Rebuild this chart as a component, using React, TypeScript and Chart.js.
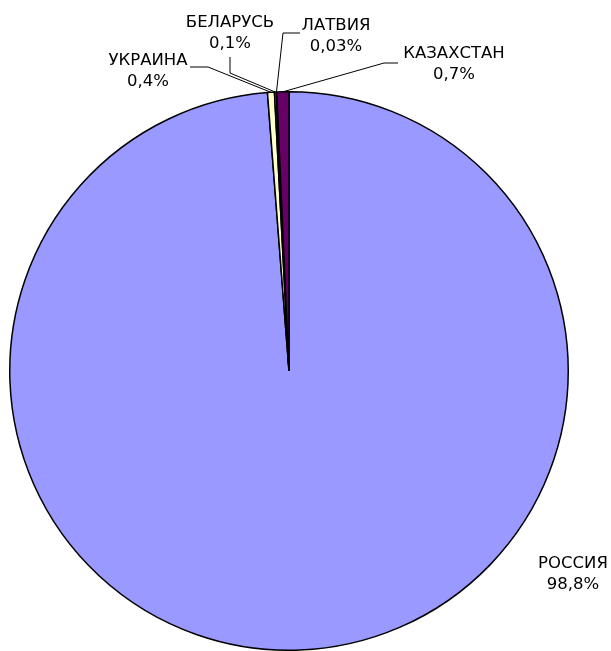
import React, { useEffect, useRef } from "react";
import { Chart, registerables } from "chart.js";

Chart.register(...registerables);

const categories = ["РОССИЯ", "УКРАИНА", "БЕЛАРУСЬ", "ЛАТВИЯ", "КАЗАХСТАН"];
const values = [98.8, 0.4, 0.1, 0.03, 0.7];
const percentLabels = ["98,8%", "0,4%", "0,1%", "0,03%", "0,7%"];
const colors = ["#9999FF", "#FFFFCC", "#CCFFFF", "#FF8080", "#660066"];

// label layout: text center x, first baseline y, leader polyline (from label side), or null
const labelLayout = [
  { x: 573, y: 568, leader: null as number[][] | null },
  { x: 148, y: 65, leader: [[190, 67], [208, 67]] },
  { x: 230, y: 27, leader: [[230, 57], [230, 73]] },
  { x: 336, y: 30, leader: [[300, 33], [283, 33]] },
  { x: 454, y: 58, leader: [[398, 63], [384, 63]] },
];

const FONT = '16.5px "DejaVu Sans", Verdana, sans-serif';
const LINE = 21;

const labelPlugin = {
  id: "pieLabels",
  afterDraw(chart: any) {
    const ctx = chart.ctx;
    const meta = chart.getDatasetMeta(0);
    ctx.save();
    ctx.font = FONT;
    ctx.fillStyle = "#000";
    ctx.textAlign = "center";
    ctx.textBaseline = "alphabetic";
    meta.data.forEach((arc: any, i: number) => {
      const lay = labelLayout[i];
      ctx.fillText(categories[i], lay.x, lay.y);
      ctx.fillText(percentLabels[i], lay.x, lay.y + LINE);
      if (lay.leader) {
        const mid = (arc.startAngle + arc.endAngle) / 2;
        const r = arc.outerRadius;
        const ex = arc.x + Math.cos(mid) * r;
        const ey = arc.y + Math.sin(mid) * r;
        ctx.beginPath();
        ctx.strokeStyle = "#000";
        ctx.lineWidth = 1;
        ctx.moveTo(lay.leader[0][0], lay.leader[0][1]);
        for (let k = 1; k < lay.leader.length; k++) ctx.lineTo(lay.leader[k][0], lay.leader[k][1]);
        ctx.lineTo(ex, ey);
        ctx.stroke();
      }
    });
    ctx.restore();
  },
};

export default function App() {
  const ref = useRef<HTMLCanvasElement>(null);
  useEffect(() => {
    if (!ref.current) return;
    const chart = new Chart(ref.current, {
      type: "pie",
      data: {
        labels: categories,
        datasets: [
          {
            data: values,
            backgroundColor: colors,
            borderColor: "#000",
            borderWidth: 1.5,
          },
        ],
      },
      options: {
        responsive: false,
        animation: false,
        devicePixelRatio: 1,
        layout: { padding: { left: 9, right: 42, top: 91, bottom: 0 } },
        plugins: { legend: { display: false }, tooltip: { enabled: false } },
      },
      plugins: [labelPlugin],
    });
    return () => chart.destroy();
  }, []);
  return (
    <div style={{ position: "fixed", left: 0, top: 0, width: 611, height: 651, background: "#fff" }}>
      <canvas ref={ref} width={611} height={651} style={{ display: "block" }} />
    </div>
  );
}
